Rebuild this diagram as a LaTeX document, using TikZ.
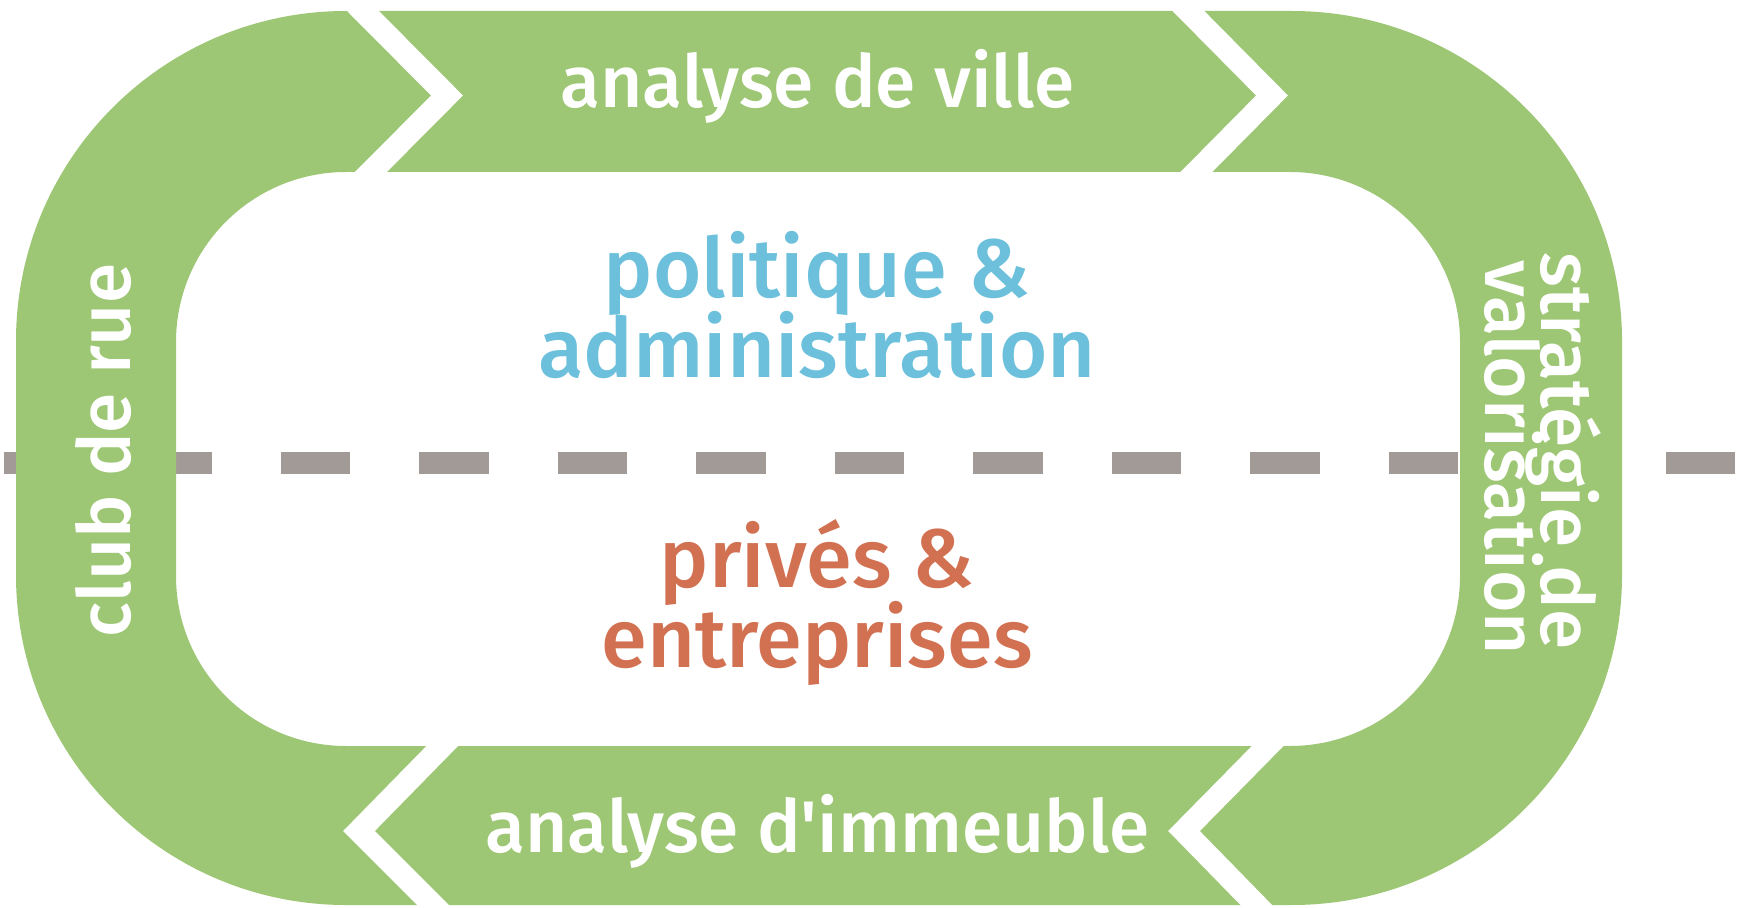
\documentclass[tikz,border=0pt]{standalone}
\usepackage{fontspec}
\setmainfont{Fira Sans}[UprightFont=* Medium]
\usepackage{xcolor}
\usetikzlibrary{positioning}

\definecolor{ringgreen}{HTML}{9DC774}
\definecolor{textblue}{HTML}{6CC0DB}
\definecolor{textorange}{HTML}{D27152}
\definecolor{dashgrey}{HTML}{A29A96}

\begin{document}
\begin{tikzpicture}[
    x=0.5pt, y=-0.5pt,
    divider/.style={draw=dashgrey, line width=11pt, dash pattern=on 34.75pt off 34.5pt},
    ring/.style={fill=ringgreen, even odd rule},
    cut/.style={draw=white, line width=11.3pt, line join=miter},
    band/.style={text=white, font=\fontsize{36.5pt}{40pt}\selectfont, inner sep=0pt, anchor=base},
    sector/.style={font=\fontsize{41.5pt}{46pt}\selectfont, inner sep=0pt, anchor=base}
]
    \useasboundingbox (0,0) rectangle (1744,908);

    % dashed divider behind the ring
    \draw[divider] (3.5,463) -- (1735,463);

    % green ring
    \fill[ring] [rounded corners=165pt] (16,11) rectangle (1622,905)
                [rounded corners=85pt] (176,172) rectangle (1460,746);

    % white chevron cuts
    \draw[cut] (351,-1) -- (447,95.5) -- (359,184);
    \draw[cut] (1176.5,-1) -- (1272,95.5) -- (1184.5,184);
    \draw[cut] (453,735) -- (359,831) -- (445,917);
    \draw[cut] (1278.5,735) -- (1184,831) -- (1268,917);

    % ring labels
    \node[band] (ville) at (817.5,108) {analyse de ville};
    \node[band] (immeuble) at (817.5,852) {analyse d\textquotesingle immeuble};
    \node[band, rotate=90] (club) at (130,450.5) {club de rue};
    \node[band, rotate=-90] (strategie) at (1541,451) {stratégie de};
    \node[band, rotate=-90] (valorisation) at (1485,458) {valorisation};

    % sectors
    \node[sector, text=textblue] (politique) at (817,298) {politique \&};
    \node[sector, text=textblue] (administration) at (817,378) {administration};
    \node[sector, text=textorange] (prives) at (817,587) {privés \&};
    \node[sector, text=textorange] (entreprises) at (817,667) {entreprises};
\end{tikzpicture}
\end{document}
